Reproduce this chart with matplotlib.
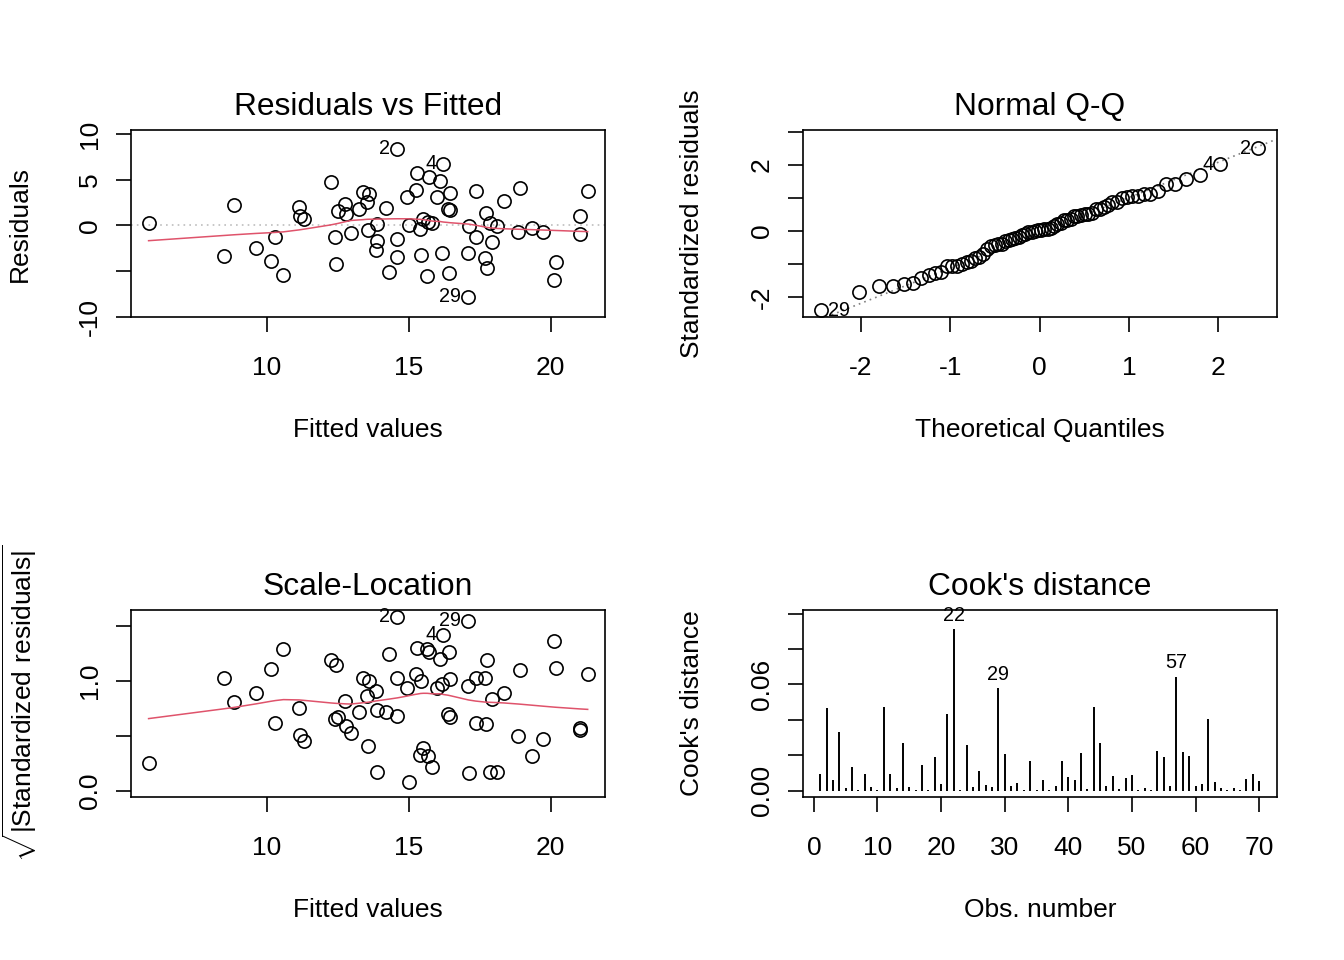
import numpy as np
import matplotlib
matplotlib.use('Agg')
import matplotlib.pyplot as plt
from statistics import NormalDist

# values, ordered by fitted value
fitted = [5.83, 8.85, 8.49, 9.62, 10.13, 10.30, 10.58, 11.13, 11.15, 11.31,
          12.24, 12.39, 12.45, 12.49, 12.75, 12.80, 12.96, 13.25, 13.37, 13.51,
          13.59, 13.57, 13.88, 13.88, 13.84, 14.20, 14.30, 14.58, 14.58, 14.59,
          14.95, 15.00, 15.25, 15.28, 15.40, 15.41, 15.51, 15.67, 15.71, 15.65,
          15.83, 16.00, 16.09, 16.22, 16.16, 16.37, 16.44, 16.46, 16.41, 17.08,
          17.08, 17.11, 17.35, 17.35, 17.68, 17.73, 17.77, 17.87, 17.94, 18.12,
          18.35, 18.85, 18.93, 19.35, 19.72, 20.18, 20.13, 21.03, 21.03, 21.30]

resid = [0.29, 2.22, -3.35, -2.54, -3.96, -1.23, -5.46, 1.97, 1.02, 0.73,
         4.77, -1.31, -4.29, 1.56, 2.37, 1.28, -0.84, 1.78, 3.68, 2.54,
         3.46, -0.55, 0.19, -1.71, -2.73, 1.86, -5.10, 8.37, -1.50, -3.46,
         3.13, 0.03, 3.85, 5.71, -0.36, -3.28, 0.66, 0.36, 5.27, -5.53,
         0.22, 3.09, 4.91, 6.74, -3.06, 1.75, 1.64, 3.53, -5.27, -2.98,
         -7.83, -0.03, 3.71, -1.28, -3.53, 1.34, -4.66, 0.22, -1.82, -0.03,
         2.70, -0.73, 4.12, -0.25, -0.69, -4.04, -5.97, 1.02, -0.98, 3.74]

sqrt_abs_std = [0.25, 0.81, 1.03, 0.89, 1.11, 0.62, 1.29, 0.75, 0.51, 0.45,
                1.19, 0.65, 1.15, 0.67, 0.82, 0.59, 0.53, 0.72, 1.03, 0.86,
                1.00, 0.41, 0.17, 0.74, 0.91, 0.72, 1.25, 1.585, 0.68, 1.03,
                0.94, 0.08, 1.06, 1.30, 0.33, 1.00, 0.39, 0.32, 1.26, 1.29,
                0.22, 0.94, 1.20, 1.42, 0.97, 0.70, 0.67, 1.02, 1.26, 0.95,
                1.55, 0.16, 1.03, 0.62, 1.03, 0.61, 1.19, 0.17, 0.84, 0.17,
                0.89, 0.50, 1.10, 0.32, 0.47, 1.12, 1.36, 0.57, 0.55, 1.06]

# index in the arrays above -> observation number shown on the plot
point_labels = {27: '2', 43: '4', 50: '29'}

# Cook's distance by observation number 1..70
cooks = [0.0097, 0.0468, 0.0063, 0.0331, 0.0013, 0.0133, 0.0004, 0.0097, 0.0019, 0.0006,
         0.0473, 0.0093, 0.0013, 0.0271, 0.0019, 0.0004, 0.0146, 0.0004, 0.0188, 0.0038,
         0.0432, 0.0913, 0.0004, 0.0256, 0.0019, 0.0112, 0.0030, 0.0023, 0.0581, 0.0210,
         0.0028, 0.0045, 0.0004, 0.0170, 0.0004, 0.0061, 0.0004, 0.0028, 0.0170, 0.0076,
         0.0061, 0.0212, 0.0009, 0.0473, 0.0269, 0.0025, 0.0085, 0.0009, 0.0072, 0.0087,
         0.0004, 0.0013, 0.0004, 0.0222, 0.0193, 0.0025, 0.0644, 0.0218, 0.0195, 0.0028,
         0.0040, 0.0407, 0.0051, 0.0017, 0.0004, 0.0015, 0.0004, 0.0064, 0.0095, 0.0055]
cook_labels = [22, 29, 57]

RED = '#DF536B'
FS = 19
FS_TITLE = 22.9
FS_ID = 14.3


def lowess(x, y, f=2/3, iters=3):
    # same smoother R's panel.smooth uses
    order = np.argsort(x, kind='stable')
    x = np.asarray(x, float)[order]
    y = np.asarray(y, float)[order]
    n = len(x)
    ns = max(min(int(f * n + 1e-7), n), 2)
    rw = np.ones(n)
    fit = np.zeros(n)
    for it in range(iters + 1):
        for i in range(n):
            d = np.abs(x - x[i])
            h = np.sort(d)[ns - 1]
            u = np.clip(d / max(h, 1e-12), 0, 1)
            w = (1 - u ** 3) ** 3 * rw
            w[d > 0.999 * h] = 0
            w[d <= h] = np.where(d[d <= h] <= 0.001 * h, rw[d <= h], w[d <= h])
            sw = w.sum()
            xm = (w * x).sum() / sw
            ym = (w * y).sum() / sw
            b = (w * (x - xm) ** 2).sum()
            slope = (w * (x - xm) * (y - ym)).sum() / b if b > 1e-12 else 0.0
            fit[i] = ym + slope * (x[i] - xm)
        if it < iters:
            res = y - fit
            cmad = 6 * np.median(np.abs(res))
            u = res / cmad
            rw = np.where(np.abs(u) < 1, (1 - u ** 2) ** 2, 0)
    return x, fit


def style_axes(ax, title, xlabel, ylabel, xticks, yticks, ylabels):
    for s in ax.spines.values():
        s.set_linewidth(1.2)
    ax.set_xticks(xticks)
    ax.set_xticklabels([str(t) for t in xticks])
    ax.set_yticks(yticks)
    ax.set_yticklabels(ylabels)
    ax.tick_params(axis='both', direction='out', length=11, width=1.2, labelsize=FS)
    ax.tick_params(axis='x', pad=17)
    ax.tick_params(axis='y', pad=10, labelrotation=90)
    for lab in ax.get_yticklabels():
        lab.set_va('center')
    h = ax.get_position().height * 960
    w = ax.get_position().width * 1344
    ax.text(0.5, 1 + 23 / h, title, transform=ax.transAxes, ha='center', va='center',
            fontsize=FS_TITLE)
    ax.set_xlabel(xlabel, fontsize=FS)
    ax.xaxis.set_label_coords(0.5, -113 / h)
    ax.xaxis.label.set_va('center')
    ax.set_ylabel(ylabel, fontsize=FS)
    ax.yaxis.set_label_coords(-111 / w, 0.5)
    ax.yaxis.label.set_va('center')


def label_point(ax, x, y, text, left):
    ax.annotate(text, (x, y), xytext=(-5 if left else 5, 0), textcoords='offset points',
                ha='right' if left else 'left', va='center', fontsize=FS_ID,
                annotation_clip=False)


plt.rcParams['font.family'] = ['Liberation Sans', 'DejaVu Sans']
plt.rcParams['mathtext.fontset'] = 'custom'
plt.rcParams['mathtext.rm'] = 'Liberation Sans'

fig = plt.figure(figsize=(13.44, 9.6), dpi=100)
L1, L2, W = 131 / 1344, 803 / 1344, 474 / 1344
B1, B2, H = 1 - 317 / 960, 1 - 797 / 960, 187 / 960
ax1 = fig.add_axes([L1, B1, W, H])
ax2 = fig.add_axes([L2, B1, W, H])
ax3 = fig.add_axes([L1, B2, W, H])
ax4 = fig.add_axes([L2, B2, W, H])

fitted_a = np.array(fitted)
resid_a = np.array(resid)
sl = np.array(sqrt_abs_std)
std_resid = np.sign(resid_a) * sl ** 2
xmid = (fitted_a.min() + fitted_a.max()) / 2

circ = dict(ls='none', marker='o', ms=9.5, mfc='none', mec='black', mew=1.2)

# Residuals vs Fitted
ax1.axhline(0, color='#BEBEBE', lw=1.2, ls=(0, (1, 2.5)))
ax1.plot(fitted_a, resid_a, **circ)
sx, sy = lowess(fitted_a, resid_a)
ax1.plot(sx, sy, color=RED, lw=1.1)
for i, t in point_labels.items():
    label_point(ax1, fitted_a[i], resid_a[i], t, fitted_a[i] > xmid)
ax1.set_xlim(5.21, 21.91)
ax1.set_ylim(-10.05, 10.45)
style_axes(ax1, 'Residuals vs Fitted', 'Fitted values', 'Residuals',
           [10, 15, 20], [-10, -5, 0, 5, 10], ['-10', '', '0', '5', '10'])

# Normal Q-Q
n = len(std_resid)
order = np.argsort(std_resid)
theo = np.array([NormalDist().inv_cdf((k + 0.5) / n) for k in range(n)])
sample = std_resid[order]
q_y = np.quantile(std_resid, [0.25, 0.75])
q_x = np.array([NormalDist().inv_cdf(0.25), NormalDist().inv_cdf(0.75)])
slope = (q_y[1] - q_y[0]) / (q_x[1] - q_x[0])
icpt = q_y[0] - slope * q_x[0]
ax2.axline((0, icpt), slope=slope, color='#7F7F7F', lw=1.2, ls=(0, (1, 2.5)))
ax2.plot(theo, sample, **circ)
rank = {idx: r for r, idx in enumerate(order)}
for i, t in point_labels.items():
    label_point(ax2, theo[rank[i]], sample[rank[i]], t, theo[rank[i]] > 0)
ax2.set_xlim(-2.65, 2.66)
ax2.set_ylim(-2.6, 3.06)
style_axes(ax2, 'Normal Q-Q', 'Theoretical Quantiles', 'Standardized residuals',
           [-2, -1, 0, 1, 2], [-2, -1, 0, 1, 2, 3], ['-2', '', '0', '', '2', ''])

# Scale-Location
ax3.plot(fitted_a, sl, **circ)
sx, sy = lowess(fitted_a, sl)
ax3.plot(sx, sy, color=RED, lw=1.1)
for i, t in point_labels.items():
    label_point(ax3, fitted_a[i], sl[i], t, fitted_a[i] > xmid)
ax3.set_xlim(5.21, 21.91)
ax3.set_ylim(-0.057, 1.647)
style_axes(ax3, 'Scale-Location', 'Fitted values', r'$\sqrt{|\mathrm{Standardized\ residuals}|}$',
           [10, 15, 20], [0, 0.5, 1.0, 1.5], ['0.0', '', '1.0', ''])

# Cook's distance
obs = np.arange(1, len(cooks) + 1)
ax4.vlines(obs, 0, cooks, color='black', lw=1.4)
for k in cook_labels:
    ax4.annotate(str(k), (k, cooks[k - 1]), xytext=(0, 3), textcoords='offset points',
                 ha='center', va='bottom', fontsize=FS_ID, annotation_clip=False)
ax4.set_xlim(-1.7, 72.8)
ax4.set_ylim(-0.0035, 0.102)
style_axes(ax4, "Cook's distance", 'Obs. number', "Cook's distance",
           list(range(0, 71, 10)), [0, 0.02, 0.04, 0.06, 0.08, 0.10],
           ['0.00', '', '', '0.06', '', ''])

fig.savefig('out.png', dpi=100)
